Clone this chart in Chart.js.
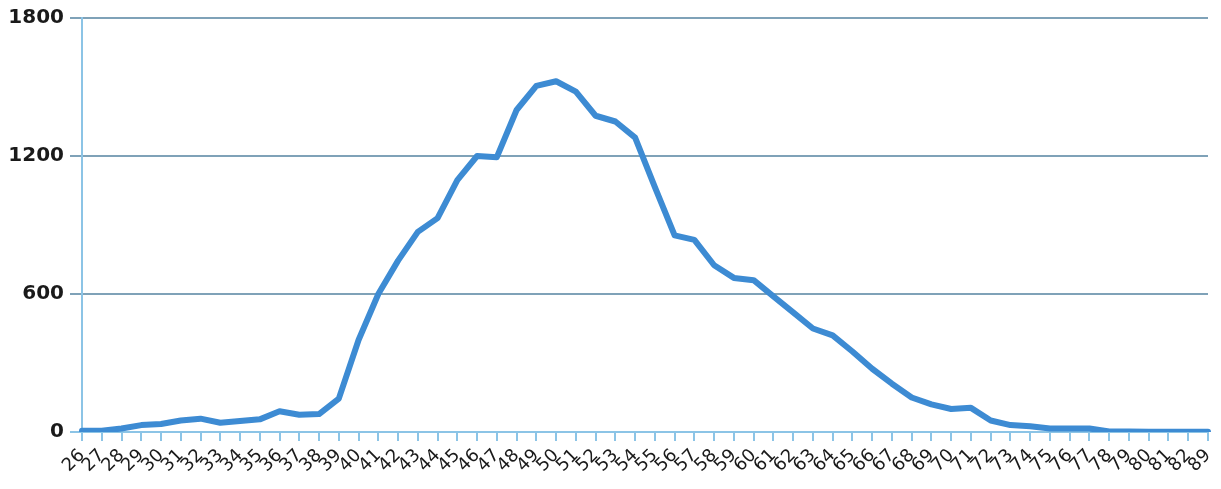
<!DOCTYPE html>
<html>
<head>
<meta charset="utf-8">
<script src="https://cdn.jsdelivr.net/npm/chart.js@4/dist/chart.umd.min.js"></script>
<style>
  html, body { margin: 0; padding: 0; background: #fff; }
  #wrap { width: 1221px; height: 489px; position: relative; }
</style>
</head>
<body>
<div id="wrap"><canvas id="Chart"></canvas></div>
<script>
// カテゴリ（年齢）
let ages = [];
for (let a = 26; a <= 82; a++) ages.push(String(a));
ages.push('89');

// 値
let counts = [
  5, 5, 15, 30, 35, 50, 58, 40, 48, 55,
  90, 75, 78, 145, 400, 600, 745, 870, 930, 1095,
  1200, 1195, 1400, 1505, 1525, 1480, 1375, 1350, 1280, 1065,
  855, 835, 725, 670, 660, 590, 520, 450, 420, 350,
  275, 210, 150, 120, 100, 105, 50, 30, 25, 15,
  15, 15, 2, 2, 1, 1, 1, 1
];

// y軸の目盛り
let yTicks = [0, 600, 1200, 1800];

let ctx = document.getElementById('Chart');
let config = {
  type: 'line',
  data: {
    labels: ages,
    datasets: [{
      data: counts,
      borderColor: '#3d8bd3',
      borderWidth: 6,
      borderJoinStyle: 'round',
      borderCapStyle: 'round',
      pointRadius: 0,
      tension: 0,
      fill: false,
    }],
  },
  options: {
    responsive: true,
    maintainAspectRatio: false,
    animation: false,
    layout: { padding: { top: 18, right: 13, left: 0, bottom: 0 } },
    plugins: { legend: { display: false }, tooltip: { enabled: false } },
    scales: {
      x: {
        offset: false,
        grid: {
          drawOnChartArea: false,
          drawTicks: true,
          tickLength: 9,
          color: '#8cc4e6',
          lineWidth: 2,
        },
        border: { color: '#8cc4e6', width: 2 },
        ticks: {
          autoSkip: false,
          maxRotation: 45,
          minRotation: 45,
          padding: 4,
          color: '#1a1a1a',
          font: { family: 'DejaVu Sans', size: 18 },
        },
        afterFit: function (s) {
          s.height = 57;
          s.paddingLeft = 0;
          s.paddingRight = 0;
        },
      },
      y: {
        min: 0,
        max: 1800,
        afterBuildTicks: function (s) { s.ticks = yTicks.map(v => ({ value: v })); },
        grid: {
          color: function (c) { return c.tick && c.tick.value === 0 ? '#8cc4e6' : '#7fa2b8'; },
          lineWidth: 2,
          tickLength: 12,
        },
        border: { color: '#8cc4e6', width: 2 },
        ticks: {
          padding: 6,
          color: '#1a1a1a',
          font: { family: 'DejaVu Sans', size: 20, weight: 'bold' },
          callback: function (v) { return String(v); },
        },
        afterFit: function (s) { s.width = 82; },
      },
    },
  },
};
let lineChart = new Chart(ctx, config);
</script>
</body>
</html>
